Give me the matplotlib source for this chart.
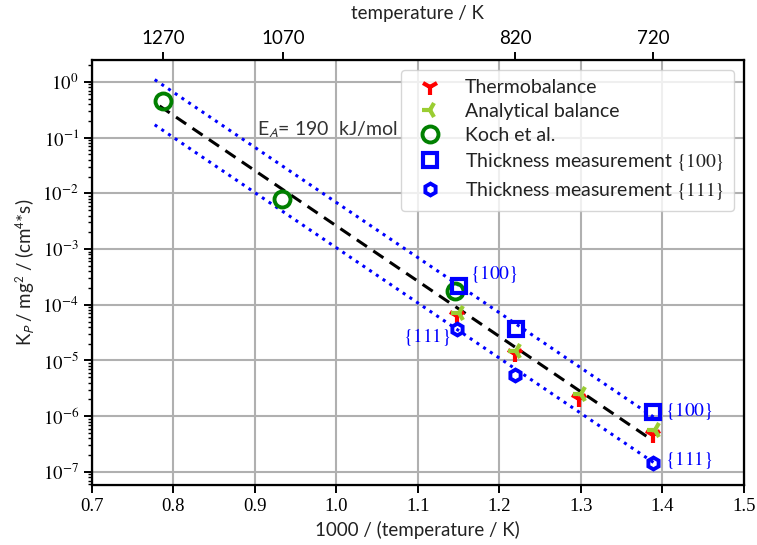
import numpy as np
import matplotlib
matplotlib.use('Agg')
import matplotlib.pyplot as plt
from matplotlib.ticker import FuncFormatter

plt.rcParams['font.family'] = ['Lato', 'DejaVu Sans']
plt.rcParams['mathtext.fontset'] = 'stix'

# data
thermo_x = [1.148, 1.219, 1.298, 1.389]
thermo_y = [6.3e-5, 1.3e-5, 2.0e-6, 4.5e-7]
analyt_x = [1.150, 1.220, 1.300, 1.391]
analyt_y = [7.0e-5, 1.45e-5, 2.5e-6, 5.6e-7]
koch_x = [0.787, 0.933, 1.145]
koch_y = [0.45, 8.0e-3, 1.77e-4]
th100_x = [1.150, 1.220, 1.389]
th100_y = [2.17e-4, 3.6e-5, 1.17e-6]
th111_x = [1.148, 1.219, 1.389]
th111_y = [3.7e-5, 5.5e-6, 1.43e-7]

fit_x = [0.783, 1.389]
fit_y = [0.37, 3.6e-7]
upper_x = [0.777, 1.390]
upper_y = [1.1, 9.5e-7]
lower_x = [0.777, 1.390]
lower_y = [0.17, 1.45e-7]

top_temps = [1270, 1070, 820, 720]

fig = plt.figure(figsize=(7.57, 5.45), dpi=100)
ax = fig.add_axes([0.1215, 0.110, 0.861, 0.780])

ax.plot(fit_x, fit_y, '--', color='black', lw=2.2, dashes=(4, 2.5))
ax.plot(upper_x, upper_y, ':', color='blue', lw=2.2)
ax.plot(lower_x, lower_y, ':', color='blue', lw=2.2)

ax.plot(thermo_x, thermo_y, ls='none', marker='1', color='red', ms=12, mew=3,
        label='Thermobalance')
ax.plot(analyt_x, analyt_y, ls='none', marker='3', color='yellowgreen', ms=12, mew=3,
        label='Analytical balance')
ax.plot(koch_x, koch_y, ls='none', marker='o', mfc='none', mec='green', ms=11.5, mew=2.8,
        label='Koch et al.')
ax.plot(th100_x, th100_y, ls='none', marker='s', mfc='none', mec='blue', ms=10, mew=3,
        label=r'Thickness measurement $\{100\}$')
ax.plot(th111_x, th111_y, ls='none', marker='h', mfc='none', mec='blue', ms=8.5, mew=2.8,
        label=r'Thickness measurement $\{111\}$')

# face labels next to thickness points
ann = dict(textcoords='offset pixels', color='blue', fontsize=14, va='center')
ax.annotate(r'$\{100\}$', (th100_x[0], th100_y[0]), xytext=(11, 12), ha='left', **ann)
ax.annotate(r'$\{111\}$', (th111_x[0], th111_y[0]), xytext=(-6, -8), ha='right', **ann)
ax.annotate(r'$\{100\}$', (th100_x[2], th100_y[2]), xytext=(12, 1), ha='left', **ann)
ax.annotate(r'$\{111\}$', (th111_x[2], th111_y[2]), xytext=(12, 3), ha='left', **ann)

ax.text(0.902, 0.14, r'E$_A$= 190  kJ/mol', fontsize=14, va='center', ha='left',
        color='#333333', math_fontfamily='stixsans')

ax.set_yscale('log')
ax.set_xlim(0.7, 1.5)
ax.set_ylim(5.8e-8, 2.48)
ax.yaxis.set_major_formatter(FuncFormatter(lambda v, p: r'$10^{%d}$' % round(np.log10(v))))
ax.grid(True, which='major', color='#b0b0b0', lw=1.5)
ax.set_axisbelow(True)
for s in ax.spines.values():
    s.set_linewidth(1.6)
ax.tick_params(which='major', length=6, width=1.4, labelsize=13.5,
               labelfontfamily='Liberation Serif')
ax.tick_params(which='minor', length=3, width=1.0)

ax.set_xlabel('1000 / (temperature / K)', fontsize=13.5, color='#222222')
ax.set_ylabel(r'K$_P$ / mg$^2$ / (cm$^4$*s)', fontsize=13.5, color='#222222',
              math_fontfamily='stixsans')

leg = ax.legend(loc='upper right', fontsize=14, framealpha=0.8, edgecolor='#cccccc',
                handletextpad=0.8, labelspacing=0.35, borderpad=0.5)
for t in leg.get_texts():
    t.set_color('#222222')

top = ax.twiny()
top.set_xlim(ax.get_xlim())
top.set_xticks([1000 / t for t in top_temps])
top.set_xticklabels([str(t) for t in top_temps])
top.tick_params(length=6, width=1.4, labelsize=13.5)
top.set_xlabel('temperature / K', fontsize=13.5, labelpad=8, color='#222222')

fig.savefig('out.png', dpi=100)
